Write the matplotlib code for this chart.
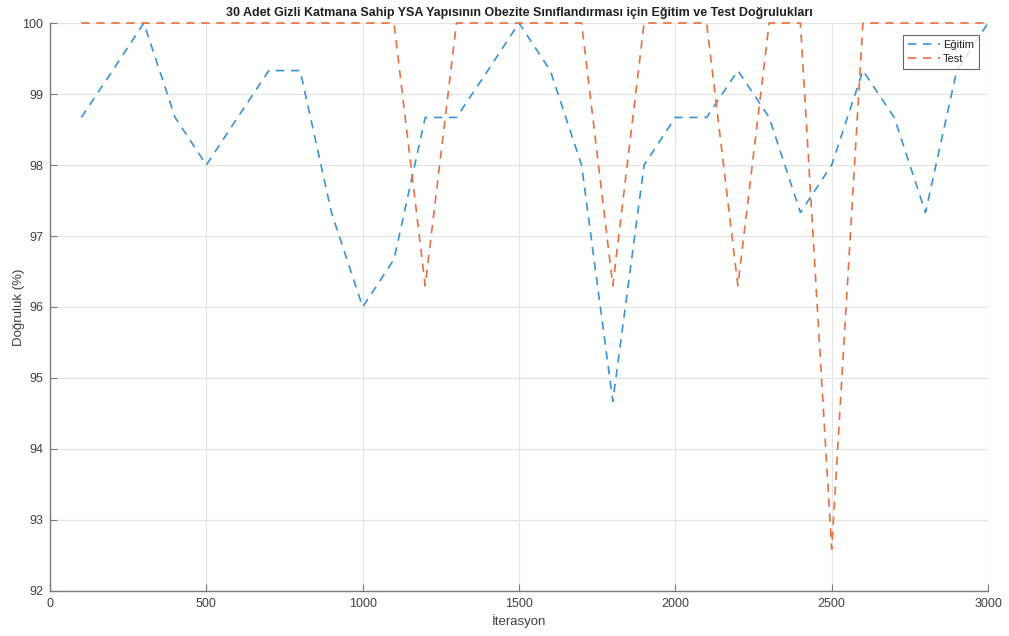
import matplotlib
matplotlib.use("Agg")
import matplotlib.pyplot as plt

plt.rcParams['font.family'] = ['Liberation Sans', 'DejaVu Sans']

iterations = list(range(100, 3001, 100))
egitim = [98.67, 99.33, 100.0, 98.67, 98.0, 98.67, 99.33, 99.33, 97.33, 96.0,
          96.67, 98.67, 98.67, 99.33, 100.0, 99.33, 98.0, 94.67, 98.0, 98.67,
          98.67, 99.33, 98.67, 97.33, 98.0, 99.33, 98.67, 97.33, 99.33, 100.0]
test = [100.0, 100.0, 100.0, 100.0, 100.0, 100.0, 100.0, 100.0, 100.0, 100.0,
        100.0, 96.30, 100.0, 100.0, 100.0, 100.0, 100.0, 96.30, 100.0, 100.0,
        100.0, 96.30, 100.0, 100.0, 92.59, 100.0, 100.0, 100.0, 100.0, 100.0]
x_ticks = [0, 500, 1000, 1500, 2000, 2500, 3000]
y_ticks = [92, 93, 94, 95, 96, 97, 98, 99, 100]

fig = plt.figure(figsize=(10.09, 6.36), dpi=100)
ax = fig.add_axes([0.0496, 0.0708, 0.9296, 0.8930])

blue = '#3a94d4'
orange = '#e8703f'
ax.plot(iterations, egitim, linestyle=(0, (5, 4)), color=blue, linewidth=1.2,
        label='Eğitim', clip_on=False)
ax.plot(iterations, test, linestyle=(0, (5, 4)), color=orange, linewidth=1.2,
        label='Test', clip_on=False)

ax.set_xlim(0, 3000)
ax.set_ylim(92, 100)
ax.set_xticks(x_ticks)
ax.set_yticks(y_ticks)
ax.grid(True, color='#e3e3e3', linewidth=0.8)
ax.set_axisbelow(True)

for side in ('top', 'right'):
    ax.spines[side].set_visible(False)
for side in ('left', 'bottom'):
    ax.spines[side].set_color('#7a7a7a')
    ax.spines[side].set_linewidth(1.0)
ax.tick_params(direction='in', length=5, width=0.8, color='#7a7a7a',
               labelsize=9, labelcolor='#404040', pad=5)

ax.set_title('30 Adet Gizli Katmana Sahip YSA Yapısının Obezite Sınıflandırması için Eğitim ve Test Doğrulukları',
             fontsize=9, fontweight='bold', color='#202020', pad=5)
ax.set_xlabel('İterasyon', fontsize=9.5, color='#404040', labelpad=3)
ax.set_ylabel('Doğruluk (%)', fontsize=9.5, color='#404040')
ax.yaxis.set_label_coords(-0.027, 0.5)

leg = ax.legend(loc='upper right', bbox_to_anchor=(0.993, 0.983), fontsize=8,
                frameon=True, fancybox=False, edgecolor='#404040',
                handlelength=2.9, handletextpad=0.25, borderpad=0.45,
                labelspacing=0.35, borderaxespad=0.2)
leg.get_frame().set_linewidth(0.8)
for t in leg.get_texts():
    t.set_color('#202020')

fig.savefig('out.png', dpi=100, facecolor='white')
